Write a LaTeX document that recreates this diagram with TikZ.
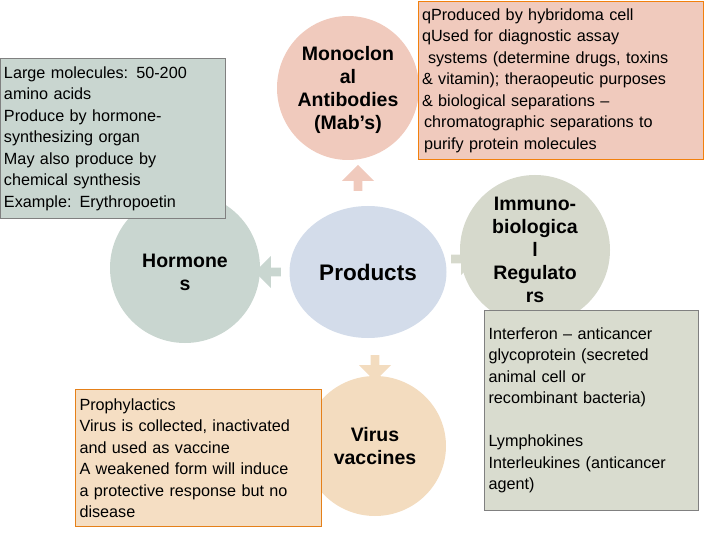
\documentclass[tikz,border=0pt]{standalone}
\usepackage{fontspec}
\setmainfont{Liberation Sans}
\usetikzlibrary{shapes.arrows,shapes.geometric}
\definecolor{cgreen}{HTML}{C9D6D0}
\definecolor{cpink}{HTML}{F0CABD}
\definecolor{cblue}{HTML}{D3DCEA}
\definecolor{cgray}{HTML}{D6D9CC}
\definecolor{cpeach}{HTML}{F3DCBF}
\definecolor{cbox}{HTML}{F5DEC3}
\definecolor{cboxg}{HTML}{D9DCCF}
\tikzset{
 circ/.style={align=center,font=\fontsize{19.5}{23}\selectfont\bfseries},
 txt/.style={draw=#1,line width=1pt,align=left,anchor=north west,inner sep=3pt,font=\fontsize{16.2}{21.5}\selectfont},
 barr/.style={single arrow,minimum height=26pt,minimum width=32pt,single arrow head extend=6pt,inner sep=2pt}
}
\begin{document}
\begin{tikzpicture}[x=1pt,y=-1pt]
\useasboundingbox (0,0) rectangle (720,540);
\node[fill=cgreen,ellipse,minimum width=150pt,minimum height=150pt] (h) at (185,268) {};
\node[fill=cpink,ellipse,minimum width=142pt,minimum height=144pt] (m) at (348,88) {};
\node[fill=cgray,ellipse,minimum width=150pt,minimum height=150pt] (i) at (535,250) {};
\node[fill=cpeach,ellipse,minimum width=142pt,minimum height=140pt] (v) at (375,446) {};
\node[fill=cblue,ellipse,minimum width=157pt,minimum height=132pt] (p) at (368,272) {};
\node[circ,font=\fontsize{22.5}{26}\selectfont\bfseries] (pt) at (368,272) {Products};
\node[circ] (mt) at (348,90) {Monoclon\\al\\Antibodies\\(Mab’s)};
\node[circ] (ht) at (185,272) {Hormone\\s};
\node[circ] (it) at (535,250) {Immuno-\\biologica\\l\\Regulato\\rs};
\node[circ] (vt) at (375,446) {Virus\\vaccines};
\node[barr,fill=cpink,shape border rotate=90] (a1) at (358,180) {};
\node[barr,fill=cgreen,shape border rotate=180] (a2) at (270,272) {};
\node[barr,fill=cgray] (a3) at (462,259) {};
\node[barr,fill=cpeach,shape border rotate=270] (a4) at (375,366) {};
\node[txt=gray,fill=cgreen,minimum width=225pt,minimum height=160pt,text width=218pt] (b1) at (0,58) {Large molecules: 50-200\\amino acids\\Produce by hormone-\\synthesizing organ\\May also produce by\\chemical synthesis\\Example: Erythropoetin};
\node[txt=orange!80!brown,fill=cpink,minimum width=285pt,minimum height=158pt,text width=278pt] (b2) at (418,1) {qProduced by hybridoma cell\\qUsed for diagnostic assay\\\hspace*{6pt}systems (determine drugs, toxins\\\& vitamin); theraopeutic purposes\\\& biological separations –\\\hspace*{2pt}chromatographic separations to\\\hspace*{2pt}purify protein molecules};
\node[txt=orange!60!brown,fill=cbox,minimum width=246pt,minimum height=137pt,text width=238pt] (b3) at (75,389) {Prophylactics\\Virus is collected, inactivated\\and used as vaccine\\A weakened form will induce\\a protective response but no\\disease};
\node[txt=gray,fill=cboxg,minimum width=214pt,minimum height=200pt,text width=206pt] (b4) at (484,310) {Interferon – anticancer\\glycoprotein (secreted\\animal cell or\\recombinant bacteria)\\[21.5pt]Lymphokines\\Interleukines (anticancer\\agent)};
\end{tikzpicture}
\end{document}
